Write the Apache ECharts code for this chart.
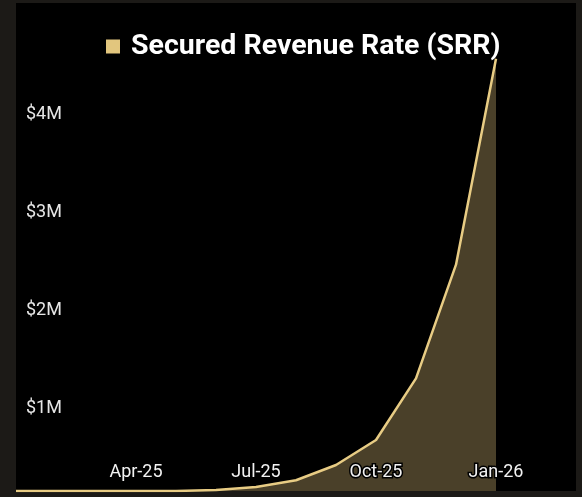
<!DOCTYPE html>
<html>
<head>
<meta charset="utf-8">
<script src="https://cdn.jsdelivr.net/npm/echarts@6/dist/echarts.min.js"></script>
<style>
html,body{margin:0;padding:0;background:#1c1a17;}
#c{width:582px;height:497px;}
</style>
</head>
<body>
<div id="c"></div>
<script>
const categories = ['Jan-25','Feb-25','Mar-25','Apr-25','May-25','Jun-25','Jul-25','Aug-25','Sep-25','Oct-25','Nov-25','Dec-25','Jan-26','Feb-26','Mar-26'];
const srrValues = [0, 0, 0, 0, 0, 10000, 40000, 110000, 265000, 520000, 1150000, 2310000, 4410000, '-', '-'];
const seriesName = 'Secured Revenue Rate (SRR)';
const yTicks = [1000000, 2000000, 3000000, 4000000];
const xLabelIdx = [3, 6, 9, 12];

const chart = echarts.init(document.getElementById('c'), null, {renderer:'canvas'});
chart.setOption({
  backgroundColor: '#1c1a17',
  animation: false,
  textStyle: {fontFamily: 'Roboto'},
  legend: {
    data: [seriesName],
    left: 101,
    top: 27,
    icon: 'rect',
    itemWidth: 14,
    itemHeight: 14,
    textStyle: {color: '#ffffff', fontSize: 28.5, fontWeight: 'bold', fontFamily: 'Roboto', padding: [0,0,0,6]}
  },
  grid: {
    left: 16, right: 6, top: 3, bottom: 6,
    show: true, backgroundColor: '#000000', borderWidth: 0,
    containLabel: false
  },
  xAxis: {
    type: 'category',
    data: categories,
    boundaryGap: false,
    z: 10,
    axisLine: {show: false},
    axisTick: {show: false},
    splitLine: {show: false},
    axisLabel: {
      inside: true,
      margin: 10,
      interval: (i) => xLabelIdx.indexOf(i) >= 0,
      color: '#f2f2f2',
      fontSize: 18,
      fontFamily: 'Roboto',
      textBorderColor: '#000',
      textBorderWidth: 3
    }
  },
  yAxis: {
    type: 'value',
    min: 0,
    max: 4980000,
    interval: 1000000,
    z: 10,
    axisLine: {show: false},
    axisTick: {show: false},
    splitLine: {show: false},
    axisLabel: {
      inside: true,
      margin: 10,
      color: '#e6e6e6',
      fontSize: 18,
      fontFamily: 'Roboto',
      verticalAlign: 'top',
      lineHeight: 30,
      formatter: (v) => yTicks.indexOf(v) >= 0 ? '$' + (v/1000000) + 'M' : ''
    }
  },
  series: [{
    name: seriesName,
    type: 'line',
    z: 2,
    data: srrValues,
    showSymbol: false,
    color: '#e2c67e',
    lineStyle: {color: '#e8cc84', width: 2.5},
    areaStyle: {color: '#4a4029', opacity: 1}
  }]
});
</script>
</body>
</html>
